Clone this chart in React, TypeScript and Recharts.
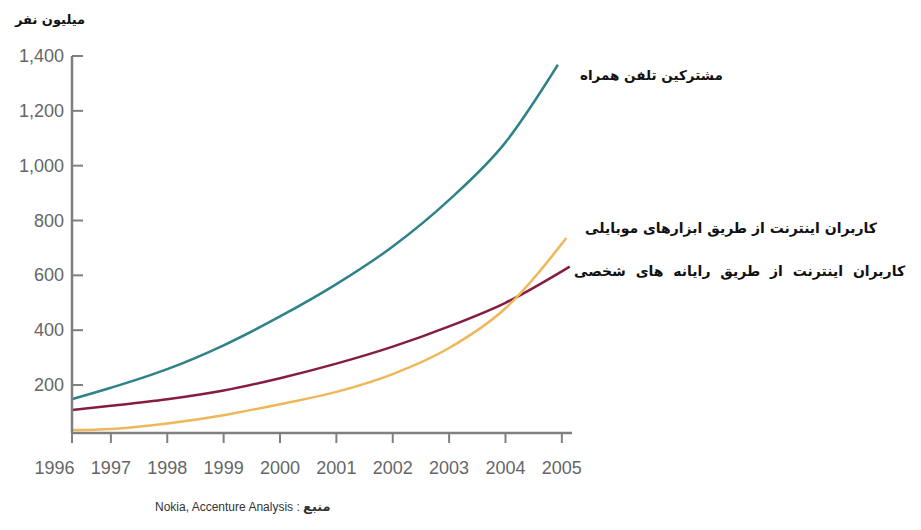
import { LineChart, Line, XAxis, YAxis } from 'recharts';

// x positions of the read points (first point sits on the y axis)
const years = [1996.3, 1997, 1998, 1999, 2000, 2001, 2002, 2003, 2004];
const yearTicks = [1996, 1997, 1998, 1999, 2000, 2001, 2002, 2003, 2004, 2005];
const valueTicks = [200, 400, 600, 800, 1000, 1200, 1400];

// millions of people
const mobileSubscribers = [148, 190, 258, 345, 450, 568, 705, 875, 1085, 1368];
const mobileInternetUsers = [36, 40, 60, 90, 130, 175, 240, 335, 480, 736];
const pcInternetUsers = [109, 124, 148, 180, 225, 278, 340, 414, 500, 632];
// each curve stops at a slightly different spot past 2004
const seriesEndYears = [2004.93, 2005.08, 2005.14];

const seriesNames = [
  'مشترکین تلفن همراه',
  'کاربران اینترنت از طریق ابزارهای موبایلی',
  'کاربران اینترنت از طریق رایانه های شخصی',
];

const toPoints = (values: number[], endYear: number) =>
  values.map((v, i) => ({ year: i < years.length ? years[i] : endYear, value: v }));

const mobileData = toPoints(mobileSubscribers, seriesEndYears[0]);
const mobileNetData = toPoints(mobileInternetUsers, seriesEndYears[1]);
const pcNetData = toPoints(pcInternetUsers, seriesEndYears[2]);

const AXIS = '#808080';
const TICK_TEXT = '#666';
const PLOT_LEFT = 72;

const XTick = (props: any) => {
  const { x, y, payload } = props;
  const lx = Math.max(x, PLOT_LEFT);
  return (
    <g>
      <line x1={lx} y1={y} x2={lx} y2={y + 10} stroke={AXIS} strokeWidth={2} />
      <text x={x} y={y + 41} textAnchor="middle" fill={TICK_TEXT} fontSize={18} fontFamily="Liberation Sans, Arial, sans-serif">
        {payload.value}
      </text>
    </g>
  );
};

const YTick = (props: any) => {
  const { x, y, payload } = props;
  return (
    <g>
      <line x1={x} y1={y} x2={x + 11} y2={y} stroke={AXIS} strokeWidth={2} />
      <text x={x - 8} y={y + 6} textAnchor="end" fill={TICK_TEXT} fontSize={18} fontFamily="Liberation Sans, Arial, sans-serif">
        {payload.value.toLocaleString('en-US')}
      </text>
    </g>
  );
};

const labelStyle: React.CSSProperties = {
  position: 'absolute',
  whiteSpace: 'nowrap',
  fontFamily: 'DejaVu Sans, sans-serif',
  fontWeight: 'bold',
  fontSize: 14,
  color: '#111',
  lineHeight: '18px',
};

const App = () => {
  return (
    <div style={{ position: 'absolute', left: 0, top: 0, width: 921, height: 530, background: '#fff' }}>
      <LineChart width={921} height={530} margin={{ top: 56, right: 349, left: 0, bottom: 57 }}>
        <XAxis
          dataKey="year"
          type="number"
          domain={[1996.31, 2005.18]}
          allowDataOverflow
          ticks={yearTicks}
          interval={0}
          height={40}
          tickSize={0}
          tickMargin={0}
          tickLine={false}
          tick={<XTick />}
          axisLine={{ stroke: AXIS, strokeWidth: 2.5 }}
        />
        <YAxis
          type="number"
          domain={[25, 1400]}
          allowDataOverflow
          ticks={valueTicks}
          interval={0}
          width={72}
          tickSize={0}
          tickMargin={0}
          tickLine={false}
          tick={<YTick />}
          axisLine={{ stroke: AXIS, strokeWidth: 2.5 }}
        />
        <Line data={mobileData} dataKey="value" type="monotone" stroke="#2f8289" strokeWidth={2.5} dot={false} isAnimationActive={false} />
        <Line data={pcNetData} dataKey="value" type="monotone" stroke="#861c44" strokeWidth={2.5} dot={false} isAnimationActive={false} />
        <Line data={mobileNetData} dataKey="value" type="monotone" stroke="#efb65a" strokeWidth={2.5} dot={false} isAnimationActive={false} />
      </LineChart>

      <div dir="rtl" style={{ ...labelStyle, left: 15, top: 11, fontSize: 13 }}>میلیون نفر</div>
      <div dir="rtl" style={{ ...labelStyle, left: 580, top: 66, fontSize: 13.5 }}>{seriesNames[0]}</div>
      <div dir="rtl" style={{ ...labelStyle, left: 585, top: 219 }}>{seriesNames[1]}</div>
      <div dir="rtl" style={{ ...labelStyle, left: 574, top: 262, wordSpacing: 5 }}>{seriesNames[2]}</div>
      <div dir="rtl" style={{ position: 'absolute', left: 155, top: 497, whiteSpace: 'nowrap', color: '#333' }}>
        <span style={{ fontFamily: 'DejaVu Sans, sans-serif', fontWeight: 'bold', fontSize: 13 }}>منبع</span>
        <span style={{ fontFamily: 'Liberation Sans, sans-serif', fontSize: 12 }}> : Nokia, Accenture Analysis</span>
      </div>
    </div>
  );
};

export default App;
